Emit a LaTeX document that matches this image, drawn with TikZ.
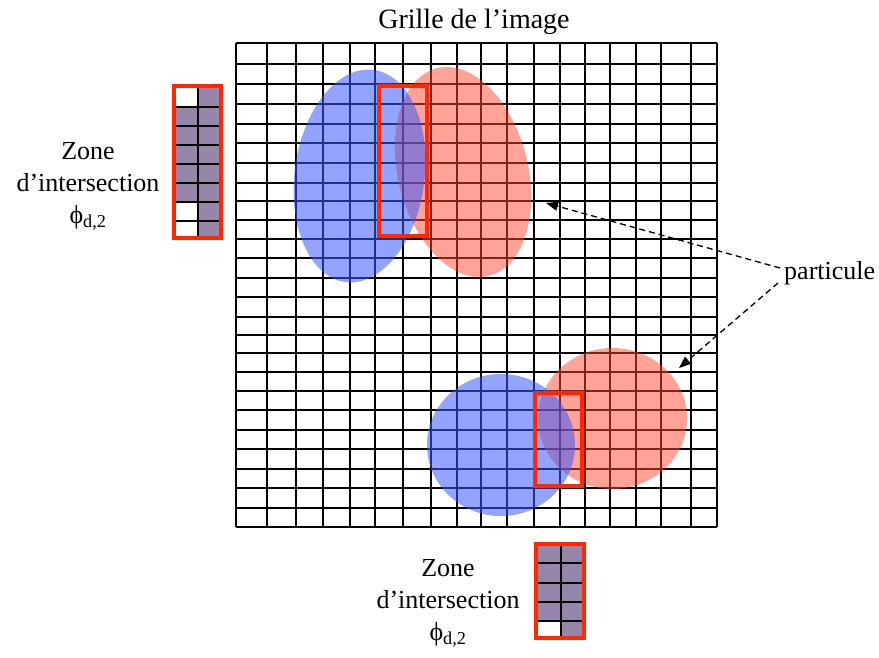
\documentclass[tikz,border=0pt]{standalone}
\usepackage{fontspec}
\setmainfont{Liberation Serif}
\usetikzlibrary{arrows.meta}
\definecolor{boxred}{RGB}{255,40,0}
\definecolor{blueell}{RGB}{60,90,250}
\definecolor{redell}{RGB}{255,70,50}
\definecolor{zonefill}{RGB}{150,134,170}
\begin{document}
\begin{tikzpicture}[x=1pt,y=-1pt,
  gridline/.style={line width=1.6pt,black},
  redrect/.style={draw=boxred,line width=4pt},
  bluepart/.style={fill=blueell,fill opacity=0.55},
  redpart/.style={fill=redell,fill opacity=0.5},
  zonecell/.style={fill=zonefill},
  lbl/.style={font=\fontsize{26}{32}\selectfont, align=center, inner sep=0pt},
  pointer/.style={dash pattern=on 6pt off 4pt, line width=1.3pt, -{Triangle[length=12pt,width=9pt]}},
]
\useasboundingbox (0,0) rectangle (879,658);
% image grid
\foreach \x in {236,267,296,323,350,375,403,431,457,481,507,534,560,585,610,636,661,691,717}
  \draw[gridline] (\x,43) -- (\x,527);
\foreach \y in {43,64,84,104,124,143,163,183,201,220,239,258,278,297,317,335,353,372,391,410,430,449,469,488,508,527}
  \draw[gridline] (236,\y) -- (717,\y);
% particles
\fill[redpart, rotate around={14:(463,172)}] (463,172) ellipse [x radius=65, y radius=107];
\fill[bluepart, rotate around={-7.6:(359.5,176)}] (359.5,176) ellipse [x radius=65, y radius=107];
\fill[redpart] (612.5,418.5) ellipse [x radius=74.5, y radius=70.5];
\fill[bluepart] (501,445) ellipse [x radius=74, y radius=71];
% intersection zones on the grid
\draw[redrect] (378.5,86) rectangle (426.5,236.5);
\draw[redrect] (535.3,392.7) rectangle (582.3,485.7);
% left zoomed zone
\fill[zonecell] (198,86) rectangle (221.3,238);
\fill[zonecell] (173.7,107) rectangle (198,202);
\foreach \y in {107,126,145,164,183,202,221}
  \draw[gridline] (173.7,\y) -- (221.3,\y);
\draw[gridline] (198,86) -- (198,238);
\draw[redrect] (173.7,86) rectangle (221.3,238);
% bottom zoomed zone
\fill[zonecell] (536,543.7) rectangle (584,638);
\fill[white] (536,621) rectangle (561,638);
\foreach \y in {563,583,602,621}
  \draw[gridline] (536,\y) -- (584,\y);
\draw[gridline] (561,543.7) -- (561,638);
\draw[redrect] (536,543.7) rectangle (584,638);
% texts
\node[lbl, font=\fontsize{28}{32}\selectfont, anchor=base] (title) at (474,28.3) {Grille de l’image};
\node[lbl, anchor=base] (zoneA) at (88,223) {Zone\\d’intersection\\ϕ\textsubscript{d,2}};
\node[lbl, anchor=base] (zoneB) at (448,640) {Zone\\d’intersection\\ϕ\textsubscript{d,2}};
\node[lbl, anchor=base west] (part) at (784,279) {particule};
% pointers
\coordinate (s1) at (780,268);
\coordinate (s2) at (778,283);
\coordinate (t1) at (546,203);
\coordinate (t2) at (679,368);
\draw[pointer] (s1) -- (t1);
\draw[pointer] (s2) -- (t2);
\end{tikzpicture}
\end{document}
